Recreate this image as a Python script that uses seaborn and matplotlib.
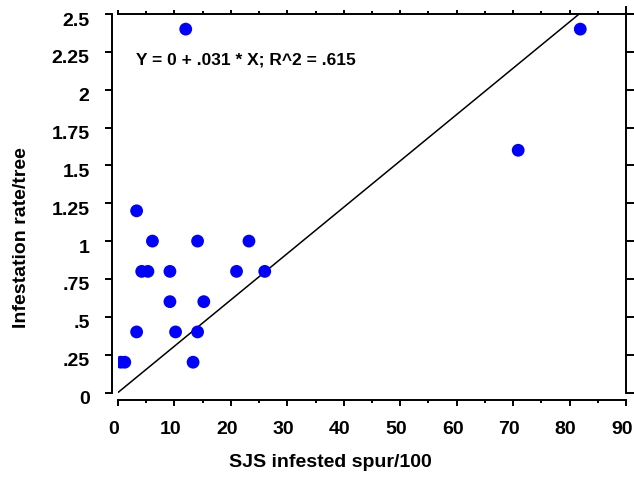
import matplotlib
matplotlib.use("Agg")
import matplotlib.pyplot as plt
import matplotlib.transforms as mtransforms
import seaborn as sns
import pandas as pd
from matplotlib.ticker import MultipleLocator, FixedLocator

# ---- data ----
spur = [12.0, 81.9, 70.9, 3.3, 6.1, 14.1, 23.2, 4.2, 5.3, 9.2, 21.0, 26.0,
        9.2, 15.2, 3.3, 10.2, 14.1, 0.5, 1.2, 13.3]
rate = [2.4, 2.4, 1.6, 1.2, 1.0, 1.0, 1.0, 0.8, 0.8, 0.8, 0.8, 0.8,
        0.6, 0.6, 0.4, 0.4, 0.4, 0.2, 0.2, 0.2]
intercept = 0.0
slope = 0.0306
fit_text = "Y = 0 + .031 * X; R^2 = .615"
x_ticks = [0, 10, 20, 30, 40, 50, 60, 70, 80, 90]
y_ticks = [0, 0.25, 0.5, 0.75, 1, 1.25, 1.5, 1.75, 2, 2.25, 2.5]
y_labels = ["0", ".25", ".5", ".75", "1", "1.25", "1.5", "1.75", "2", "2.25", "2.5"]

df = pd.DataFrame({"spur": spur, "rate": rate})

sns.set_theme(style="ticks")
plt.rcParams["font.family"] = ["Liberation Sans", "DejaVu Sans"]
plt.rcParams["font.weight"] = "bold"
plt.rcParams["axes.labelweight"] = "bold"
for key in ["text.color", "axes.labelcolor", "xtick.color", "ytick.color",
            "axes.edgecolor"]:
    plt.rcParams[key] = "black"

fig = plt.figure(figsize=(6.34, 4.78), dpi=100)
ax = fig.add_axes([118 / 634, 1 - 392.5 / 478, 508 / 634, 378.5 / 478])

sns.scatterplot(data=df, x="spur", y="rate", ax=ax, color="#0000ff",
                s=85, edgecolor="none", zorder=3)
ax.axline((0, intercept), slope=slope, color="black", lw=1.1, zorder=2)

ax.set_xlim(0, 90)
ax.set_ylim(0, 2.5)
ax.xaxis.set_major_locator(FixedLocator(x_ticks))
ax.xaxis.set_minor_locator(MultipleLocator(5))
ax.set_yticks(y_ticks)
ax.set_yticklabels(y_labels)

ax.text(0.036, 0.878, fit_text, transform=ax.transAxes, fontsize=12.5,
        fontweight="bold", ha="left", va="center")

ax.set_xlabel("SJS infested spur/100", fontsize=14, va="center")
ax.set_ylabel("Infestation rate/tree", fontsize=14, va="center")
ax.xaxis.set_label_coords(0.419, -0.186)
ax.yaxis.set_label_coords(-0.19, 0.41)

# spines: left/bottom detached, top/right at the data edge
for s in ax.spines.values():
    s.set_visible(True)
    s.set_linewidth(1.4)
ax.spines["left"].set_position(("outward", 4))
ax.spines["bottom"].set_position(("outward", 5.5))
ax.spines["top"].set_bounds(0, 91.4)
ax.spines["right"].set_bounds(0, 2.546)

ax.tick_params(axis="x", which="major", direction="out", top=True, bottom=True,
               length=4.3, width=1.4, labelsize=14, pad=10.5)
ax.tick_params(axis="x", which="minor", direction="out", top=True, bottom=True,
               length=2.4, width=1.4)
ax.tick_params(axis="y", which="major", direction="out", left=True, right=True,
               length=5, width=1.4, labelsize=14, pad=11.5)
ax.tick_params(axis="y", which="minor", left=False, right=False)

# top ticks are shorter, right ticks a bit longer
for t in ax.xaxis.get_major_ticks():
    t.tick2line.set_markersize(2.9)
for t in ax.xaxis.get_minor_ticks():
    t.tick2line.set_markersize(1.9)
for t in ax.yaxis.get_major_ticks():
    t.tick2line.set_markersize(5.8)

# tick labels sit a little left / below their ticks in the original
xshift = mtransforms.ScaledTranslation(-4 / 100, 0, fig.dpi_scale_trans)
yshift = mtransforms.ScaledTranslation(0, -5 / 100, fig.dpi_scale_trans)
for lab in ax.get_xticklabels():
    lab.set_fontweight("bold")
    lab.set_transform(lab.get_transform() + xshift)
for lab in ax.get_yticklabels():
    lab.set_fontweight("bold")
    lab.set_transform(lab.get_transform() + yshift)

fig.savefig("out.png", dpi=100)
